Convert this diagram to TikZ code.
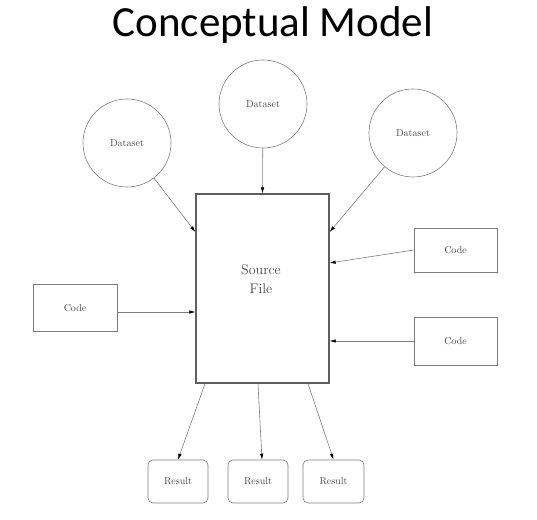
\documentclass[tikz,border=0pt]{standalone}
\usepackage{fontspec}
\usetikzlibrary{arrows.meta}
\newfontfamily\titlefont{Carlito}
\definecolor{linegray}{HTML}{7C7C7C}
\definecolor{boxgray}{HTML}{5E5E5E}
\definecolor{textgray}{HTML}{484848}
\tikzset{
	dataset/.style={circle,draw=linegray,line width=0.6pt,minimum size=88pt,inner sep=0pt,font=\fontsize{10}{12}\selectfont,text=textgray},
	codebox/.style={rectangle,draw=linegray,line width=0.6pt,minimum width=83pt,minimum height=46pt,inner sep=0pt,font=\fontsize{10}{12}\selectfont,text=textgray},
	resultbox/.style={rectangle,rounded corners=5pt,draw=linegray,line width=0.6pt,minimum width=60pt,minimum height=43pt,inner sep=0pt,font=\fontsize{10}{12}\selectfont,text=textgray},
	feed/.style={draw=linegray,line width=0.6pt,-{Latex[length=6pt,width=3.5pt,color=black]}}
}

\begin{document}
\begin{tikzpicture}[x=1pt,y=1pt]
	\useasboundingbox (0,0) rectangle (537,519);
	% title
	\node (title) at (273,494) {\titlefont\fontsize{43}{50}\selectfont Conceptual Model};
	% source file
	\node[draw=boxgray,line width=1.3pt,minimum width=133pt,minimum height=189pt,inner sep=0pt] (src) at (262.5,230.5) {};
	\node[align=center,text=textgray,font=\fontsize{14}{19}\selectfont] (srctext) at (261,240) {Source\\File};
	% datasets
	\node[dataset] (dsl) at (127,376) {Dataset};
	\node[dataset] (dsm) at (263,415) {Dataset};
	\node[dataset] (dsr) at (413,386) {Dataset};
	% code
	\node[codebox,minimum height=44pt] (codeA) at (455.5,269) {Code};
	\node[codebox,minimum height=48pt] (codeB) at (455.5,178) {Code};
	\node[codebox,minimum width=84pt,minimum height=47pt] (codeC) at (75,211) {Code};
	% results
	\node[resultbox] (resA) at (178,37.5) {Result};
	\node[resultbox] (resB) at (258,37.5) {Result};
	\node[resultbox,minimum width=61pt] (resC) at (333.5,37.5) {Result};
	% inputs
	\draw[feed] (dsl) -- ([yshift=56.5pt]src.west);
	\draw[feed] (dsm) -- (src.north);
	\draw[feed] (dsr) -- ([yshift=56.5pt]src.east);
	\draw[feed] (codeA.west) -- ([yshift=25.5pt]src.east);
	\draw[feed] (codeB.west) -- (codeB.west -| src.east);
	\draw[feed] ([yshift=-4pt]codeC.east) -- ([yshift=-4pt]codeC.east -| src.west);
	% outputs
	\draw[feed] ([xshift=-57.5pt]src.south) -- (resA.north);
	\draw[feed] ([xshift=-4.5pt]src.south) -- ([xshift=4pt]resB.north);
	\draw[feed] ([xshift=45.5pt]src.south) -- (resC.north);
\end{tikzpicture}
\end{document}
